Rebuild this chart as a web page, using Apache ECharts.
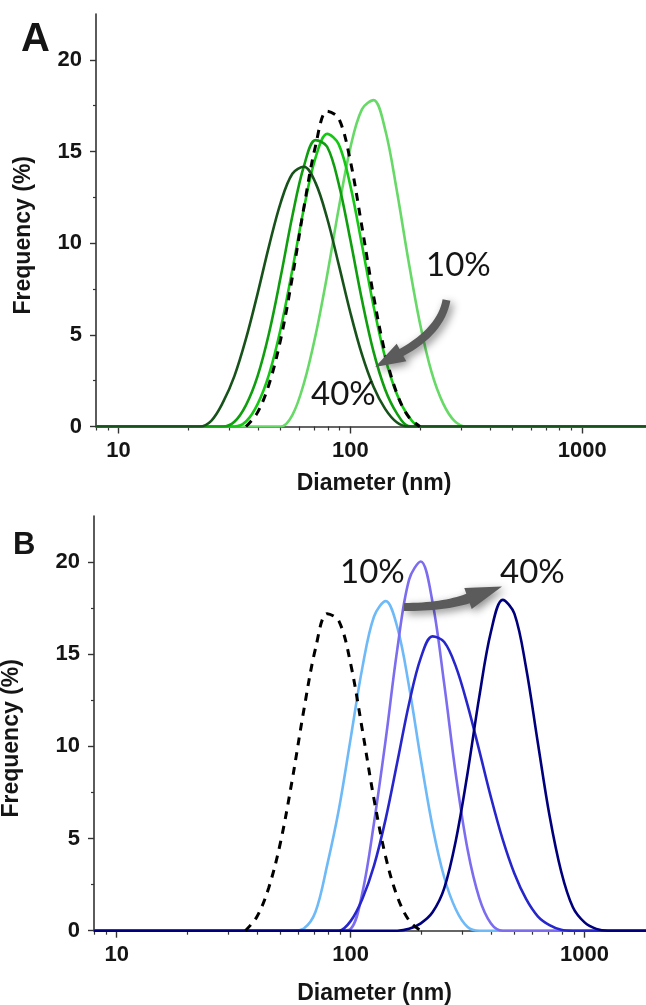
<!DOCTYPE html>
<html>
<head>
<meta charset="utf-8">
<title>Particle size distributions</title>
<script src="https://cdn.jsdelivr.net/npm/echarts@6/dist/echarts.min.js"></script>
<style>
  html, body { margin: 0; padding: 0; background: #ffffff; }
  #chart { width: 646px; height: 1005px; }
</style>
</head>
<body>
<div id="chart"></div>
<script>
// Size bins (nm), log-spaced at 20 bins per decade
const diameterBins = [
  8.0, 8.91, 10.0, 11.22, 12.59, 14.13, 15.85, 17.78, 19.95, 22.39,
  25.12, 28.18, 31.62, 35.48, 39.81, 44.67, 50.12, 56.23, 63.10, 70.79,
  79.43, 89.13, 100.0, 112.2, 125.9, 141.3, 158.5, 177.8, 199.5, 223.9,
  251.2, 281.8, 316.2, 354.8, 398.1, 446.7, 501.2, 562.3, 631.0, 707.9,
  794.3, 891.3, 1000, 1122, 1259, 1413, 1585, 1778, 1995
];

// Untreated reference (dashed, both panels)
const freqControl = [
  0, 0, 0, 0, 0, 0, 0, 0, 0, 0,
  0, 0, 0, 0, 0.77, 2.33, 4.78, 8.15, 11.97, 15.31,
  17.2, 16.8, 14.49, 10.90, 7.13, 3.99, 1.83, 0.55, 0, 0,
  0, 0, 0, 0, 0, 0, 0, 0, 0, 0,
  0, 0, 0, 0, 0, 0, 0, 0, 0
];

// Panel A
const freqA10 = [
  0, 0, 0, 0, 0, 0, 0, 0, 0, 0,
  0, 0, 0, 0, 0, 0, 0, 0.62, 2.37, 4.98,
  8.25, 11.9, 15.2, 17.3, 17.8, 16.2, 12.9, 9.1, 5.65, 2.98,
  1.26, 0.29, 0, 0, 0, 0, 0, 0, 0, 0,
  0, 0, 0, 0, 0, 0, 0, 0, 0
];
const freqA20 = [
  0, 0, 0, 0, 0, 0, 0, 0, 0, 0,
  0, 0, 0, 0.27, 1.22, 2.87, 5.36, 8.55, 11.92, 14.66,
  15.96, 15.39, 13.14, 9.91, 6.57, 3.76, 1.79, 0.58, 0, 0,
  0, 0, 0, 0, 0, 0, 0, 0, 0, 0,
  0, 0, 0, 0, 0, 0, 0, 0, 0
];
const freqA30 = [
  0, 0, 0, 0, 0, 0, 0, 0, 0, 0,
  0, 0, 0.26, 1.17, 2.75, 5.13, 8.19, 11.48, 14.21, 15.62,
  15.26, 13.23, 10.18, 6.91, 4.08, 2.02, 0.73, 0.03, 0, 0,
  0, 0, 0, 0, 0, 0, 0, 0, 0, 0,
  0, 0, 0, 0, 0, 0, 0, 0, 0
];
const freqA40 = [
  0, 0, 0, 0, 0, 0, 0, 0, 0, 0,
  0.31, 1.30, 2.75, 4.79, 7.25, 9.88, 12.23, 13.79, 14.17, 13.29,
  11.36, 8.83, 6.22, 3.93, 2.17, 0.96, 0.23, 0, 0, 0,
  0, 0, 0, 0, 0, 0, 0, 0, 0, 0,
  0, 0, 0, 0, 0, 0, 0, 0, 0
];

// Panel B
const freqB10 = [
  0, 0, 0, 0, 0, 0, 0, 0, 0, 0,
  0, 0, 0, 0, 0, 0, 0, 0, 0.12, 1.03,
  3.57, 6.60, 10.42, 14.26, 17.05, 17.88, 16.44, 13.24, 9.30, 5.66,
  2.90, 1.15, 0.20, 0, 0, 0, 0, 0, 0, 0,
  0, 0, 0, 0, 0, 0, 0, 0, 0
];
const freqB20 = [
  0, 0, 0, 0, 0, 0, 0, 0, 0, 0,
  0, 0, 0, 0, 0, 0, 0, 0, 0, 0,
  0, 0, 0.10, 2.05, 5.86, 10.39, 15.32, 19.05, 20.03, 17.82,
  13.39, 8.45, 4.40, 1.77, 0.39, 0, 0, 0, 0, 0,
  0, 0, 0, 0, 0, 0, 0, 0, 0
];
const freqB30 = [
  0, 0, 0, 0, 0, 0, 0, 0, 0, 0,
  0, 0, 0, 0, 0, 0, 0, 0, 0, 0,
  0, 0, 0.52, 1.72, 3.53, 6.08, 9.18, 12.33, 14.80, 15.97,
  15.66, 14.33, 12.24, 9.77, 7.23, 4.95, 3.10, 1.72, 0.78, 0.30,
  0.05, 0, 0, 0, 0, 0, 0, 0, 0
];
const freqB40 = [
  0, 0, 0, 0, 0, 0, 0, 0, 0, 0,
  0, 0, 0, 0, 0, 0, 0, 0, 0, 0,
  0, 0, 0, 0, 0, 0, 0, 0.10, 0.40, 1.00,
  2.30, 4.91, 8.56, 12.70, 16.23, 17.95, 17.20, 14.27, 10.21, 6.26,
  3.21, 1.27, 0.45, 0.10, 0, 0, 0, 0, 0
];

// Axis ticks
const majorXTicks = [10, 100, 1000];
const minorXTicks = [8, 9, 20, 30, 40, 50, 60, 70, 80, 90,
  200, 300, 400, 500, 600, 700, 800, 900, 2000];
const majorYTicks = [0, 5, 10, 15, 20];
const minorYTicks = [2.5, 7.5, 12.5, 17.5];

const labelFont = 'Liberation Sans, Arial, sans-serif';
const noteFont = 'Lato, Open Sans, sans-serif';
const axisColor = '#333333';
const textColor = '#151515';

const chart = echarts.init(document.getElementById('chart'), null, { renderer: 'canvas' });

function pairs(values) {
  return diameterBins.map((d, i) => [d, values[i]]);
}

// keep only the zeros that touch the peak, so the dashed trace stops at its feet
function trimZeroRuns(values) {
  return values.map((v, i) =>
    (v === 0 && !(values[i - 1] > 0) && !(values[i + 1] > 0)) ? null : v);
}

function curve(name, values, color, xi, yi) {
  return {
    type: 'line', name: name, xAxisIndex: xi, yAxisIndex: yi,
    data: pairs(values), symbol: 'none', showSymbol: false,
    smooth: 0.35, clip: true,
    lineStyle: { color: color, width: 2.6 }, z: 3
  };
}

function controlCurve(xi, yi) {
  return {
    type: 'line', name: 'Control', xAxisIndex: xi, yAxisIndex: yi,
    data: pairs(trimZeroRuns(freqControl)), symbol: 'none', showSymbol: false,
    smooth: 0.35, connectNulls: false,
    lineStyle: { color: '#000000', width: 3, type: [8, 7], cap: 'butt' }, z: 4
  };
}

function mainX(gridIndex, nameGap) {
  return {
    gridIndex: gridIndex, type: 'log', logBase: 10, min: 8, max: 2000,
    position: 'bottom',
    name: 'Diameter (nm)', nameLocation: 'middle', nameGap: nameGap,
    nameTextStyle: { fontFamily: labelFont, fontWeight: 'bold', fontSize: 23, color: textColor },
    axisLine: { show: true, onZero: false, lineStyle: { color: axisColor, width: 1.6 } },
    axisTick: { show: true, customValues: majorXTicks, length: 7, lineStyle: { color: axisColor, width: 1.4 } },
    axisLabel: { customValues: majorXTicks, margin: 13, fontFamily: labelFont, fontWeight: 'bold',
      fontSize: 22, color: textColor, formatter: v => String(Math.round(v)) },
    splitLine: { show: false }, minorTick: { show: false }
  };
}

function minorX(gridIndex) {
  return {
    gridIndex: gridIndex, type: 'log', logBase: 10, min: 8, max: 2000,
    position: 'bottom', offset: 0,
    axisLine: { show: false },
    axisTick: { show: true, customValues: minorXTicks, length: 4, lineStyle: { color: axisColor, width: 1.2 } },
    axisLabel: { show: false }, splitLine: { show: false }
  };
}

function mainY(gridIndex, nameGap) {
  return {
    gridIndex: gridIndex, type: 'value', min: 0, max: 22.5, position: 'left',
    name: 'Frequency (%)', nameLocation: 'middle', nameGap: nameGap,
    nameTextStyle: { fontFamily: labelFont, fontWeight: 'bold', fontSize: 23, color: textColor,
      padding: [0, 30, 0, 0] },
    axisLine: { show: true, onZero: false, lineStyle: { color: axisColor, width: 1.6 } },
    axisTick: { show: true, customValues: majorYTicks, length: 6, lineStyle: { color: axisColor, width: 1.4 } },
    axisLabel: { customValues: majorYTicks, margin: 14, fontFamily: labelFont, fontWeight: 'bold',
      fontSize: 22, color: textColor },
    splitLine: { show: false }
  };
}

function minorY(gridIndex) {
  return {
    gridIndex: gridIndex, type: 'value', min: 0, max: 22.5, position: 'left', offset: 0,
    axisLine: { show: false },
    axisTick: { show: true, customValues: minorYTicks, length: 3, lineStyle: { color: axisColor, width: 1.2 } },
    axisLabel: { show: false }, splitLine: { show: false }
  };
}

function note(text, x, y, size, font, weight) {
  return {
    type: 'text', x: x, y: y, z: 10,
    style: { text: text, fill: textColor, font: (weight || 'normal') + ' ' + size + 'px ' + font,
      align: 'left', verticalAlign: 'middle' }
  };
}

// Sample a quadratic Bezier from p0 through control c to p1
function quad(p0, c, p1, steps) {
  const pts = [];
  for (let i = 0; i <= steps; i++) {
    const t = i / steps, u = 1 - t;
    pts.push([u * u * p0[0] + 2 * u * t * c[0] + t * t * p1[0],
              u * u * p0[1] + 2 * u * t * c[1] + t * t * p1[1]]);
  }
  return pts;
}

// Curved block arrow: outer edge, arrow head, inner edge back to the tail
function curvedArrow(outer, head, inner) {
  const pts = quad(outer[0], outer[1], outer[2], 16)
    .concat(head)
    .concat(quad(inner[0], inner[1], inner[2], 16));
  return {
    type: 'polygon', z: 9,
    shape: { points: pts },
    style: { fill: '#5b5b5b', shadowBlur: 8, shadowColor: 'rgba(0,0,0,0.45)',
      shadowOffsetX: 3, shadowOffsetY: 3 }
  };
}

const option = {
  animation: false,
  backgroundColor: '#ffffff',
  grid: [
    { left: 96, top: 14, width: 556, height: 412.5, outerBoundsMode: 'none', containLabel: false },
    { left: 94, top: 516, width: 561, height: 414.7, outerBoundsMode: 'none', containLabel: false }
  ],
  xAxis: [mainX(0, 46), minorX(0), mainX(1, 51), minorX(1)],
  yAxis: [mainY(0, 61), minorY(0), mainY(1, 71), minorY(1)],
  series: [
    curve('10%', freqA10, '#66d966', 0, 0),
    curve('20%', freqA20, '#14c814', 0, 0),
    curve('30%', freqA30, '#0e9e0e', 0, 0),
    curve('40%', freqA40, '#16521a', 0, 0),
    controlCurve(0, 0),
    curve('10%', freqB10, '#6eb9f7', 2, 2),
    curve('20%', freqB20, '#7b6cf0', 2, 2),
    curve('30%', freqB30, '#2626cc', 2, 2),
    curve('40%', freqB40, '#00007d', 2, 2),
    controlCurve(2, 2)
  ],
  graphic: [
    note('A', 21, 40, 40, labelFont, 'bold'),
    note('B', 13, 545, 31, labelFont, 'bold'),
    note('10%', 426, 265, 33, noteFont),
    note('40%', 311, 394, 33, noteFont),
    note('10%', 340, 572, 33, noteFont),
    note('40%', 500, 572, 33, noteFont),
    curvedArrow(
      [[450.4, 300.8], [444, 334.5], [403.4, 356]],
      [[406.3, 361.3], [375.2, 366.9], [396.7, 343.7]],
      [[399.6, 349], [438, 327], [442.6, 299.2]]),
    curvedArrow(
      [[404, 603], [442, 603], [466.3, 593.8]],
      [[464.3, 588.1], [502, 586.5], [471.7, 608.9]],
      [[469.7, 603.2], [446, 611], [404, 611]])
  ]
};

chart.setOption(option);
</script>
</body>
</html>
